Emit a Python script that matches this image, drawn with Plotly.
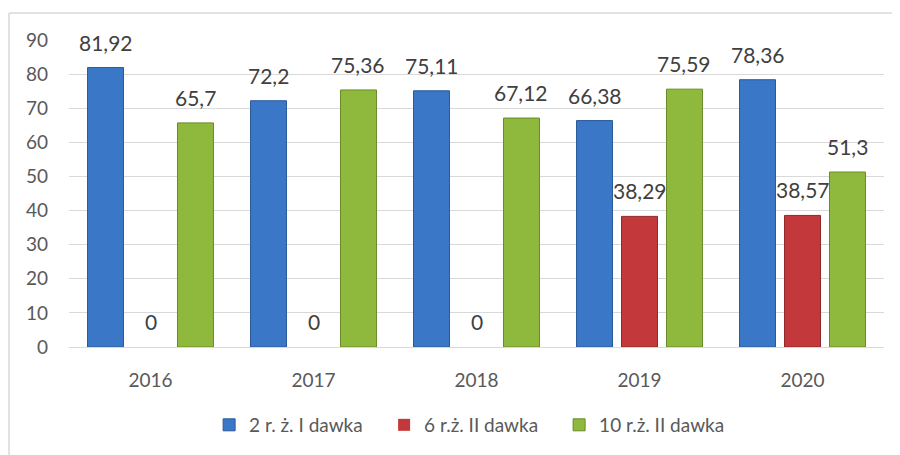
import plotly.graph_objects as go

years = ["2016", "2017", "2018", "2019", "2020"]
s1_name = "2 r. ż. I dawka"
s2_name = "6 r.ż. II dawka"
s3_name = "10 r.ż. II dawka"
s1 = [81.92, 72.2, 75.11, 66.38, 78.36]
s2 = [0, 0, 0, 38.29, 38.57]
s3 = [65.7, 75.36, 67.12, 75.59, 51.3]

def lbl(v):
    return f"{v:g}".replace(".", ",")

colors = ["#3a77c6", "#c3393b", "#8fb93c"]
lines = ["#2a5a99", "#8e2a2a", "#6a8a2a"]

W, H = 900, 455
ML, MR, MT, MB = 61, 24, 32, 116
BARGAP = 0.172
plot_w = W - ML - MR
cat_w = plot_w / len(years)
slot = cat_w * (1 - BARGAP) / 3

fig = go.Figure()
annotations = []
series = [s1, s2, s3]
for i, (name, vals, c, lc) in enumerate(zip([s1_name, s2_name, s3_name], series, colors, lines)):
    fig.add_trace(go.Bar(
        x=years, y=vals, name=name,
        marker=dict(color=c, line=dict(color=lc, width=[1 if v else 0 for v in vals])),
    ))
    for k, v in enumerate(vals):
        annotations.append(dict(
            x=k, y=v, xref="x", yref="y", text=lbl(v), showarrow=False,
            xanchor="center", yanchor="bottom", xshift=(i - 1) * slot, yshift=11,
            font=dict(size=21, color="#404040"),
        ))

font = "Lato, Open Sans, sans-serif"
fig.update_layout(
    width=W, height=H,
    margin=dict(l=ML, r=MR, t=MT, b=MB, autoexpand=False),
    paper_bgcolor="white", plot_bgcolor="white",
    font=dict(family=font, color="#595959", size=19),
    barmode="group", bargap=BARGAP, bargroupgap=0.2,
    showlegend=True,
    legend=dict(orientation="h", x=0.494, xanchor="center", y=-0.254, yanchor="middle",
                font=dict(size=19, color="#595959"), traceorder="normal",
                entrywidth=130, entrywidthmode="pixels"),
    xaxis=dict(type="category", range=[-0.5, len(years) - 0.5], showgrid=False, showline=True,
               linecolor="#d9d9d9", linewidth=1,
               ticks="", tickfont=dict(size=19), ticklabelstandoff=16, automargin=False),
    yaxis=dict(range=[0, 90], dtick=10, showgrid=True, gridcolor="#d9d9d9",
               zeroline=False, ticks="", tickfont=dict(size=19), ticklabelstandoff=20,
               automargin=False),
    annotations=annotations,
    shapes=[
        dict(type="line", xref="paper", yref="paper", x0=-0.0736, x1=1.1, y0=1.088, y1=1.088,
             line=dict(color="#d9d9d9", width=1.5)),
        dict(type="line", xref="paper", yref="paper", x0=-0.0736, x1=-0.0736, y0=1.088, y1=-0.4,
             line=dict(color="#d9d9d9", width=1.5)),
    ],
)
fig.write_html("out.html")
